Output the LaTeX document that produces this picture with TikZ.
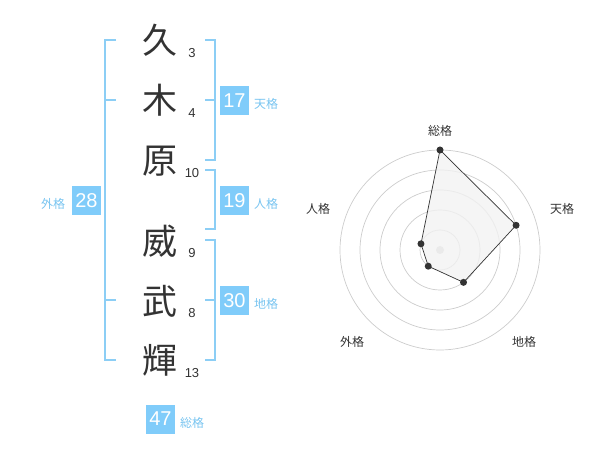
\documentclass[tikz,border=0pt]{standalone}
\usepackage{fontspec}
\setmainfont{Noto Sans CJK JP}
\newfontfamily\digitfont{Liberation Sans}
\usepackage{xcolor}

\begin{document}
\begin{tikzpicture}[x=1pt, y=-1pt]

  \definecolor{my_blue}{RGB}{128,204,250}
  \definecolor{my_blue_line}{RGB}{140,206,245}
  \definecolor{my_blue_text}{RGB}{120,196,240}
  \definecolor{my_gray_dark}{RGB}{51,51,51}
  \definecolor{my_gray}{RGB}{204,204,204}
  \definecolor{my_gray_light}{RGB}{242,242,242}

  \tikzstyle{kanji} = [inner sep=0pt, text=my_gray_dark, font=\fontsize{35}{35}\selectfont]
  \tikzstyle{strokes} = [inner sep=0pt, text=my_gray_dark, font=\digitfont\fontsize{13}{13}\selectfont]
  \tikzstyle{gbox} = [fill=my_blue, text=white, minimum width=29pt, minimum height=29pt, inner sep=0pt, font=\digitfont\fontsize{20}{20}\selectfont]
  \tikzstyle{glabel} = [anchor=west, inner sep=0pt, text=my_blue_text, font=\fontsize{12}{12}\selectfont]
  \tikzstyle{bracket} = [draw=my_blue_line, line width=2pt]
  \tikzstyle{axislabel} = [inner sep=0pt, text=my_gray_dark, font=\fontsize{12}{12}\selectfont]

  \useasboundingbox (0,0) rectangle (600,470);

  % name
  \node [kanji] (k1) at (160,40) {久};
  \node [kanji] (k2) at (160,100) {木};
  \node [kanji] (k3) at (160,161) {原};
  \node [kanji] (k4) at (160,241) {威};
  \node [kanji] (k5) at (160,301) {武};
  \node [kanji] (k6) at (160,360) {輝};

  \node [strokes] (s1) at (192,53) {3};
  \node [strokes] (s2) at (192,113) {4};
  \node [strokes] (s3) at (192,173) {10};
  \node [strokes] (s4) at (192,253) {9};
  \node [strokes] (s5) at (192,313) {8};
  \node [strokes] (s6) at (192,373) {13};

  % brackets
  \path [bracket] (116,40) -- (105,40) -- (105,360) -- (116,360);
  \path [bracket] (105,100) -- (116,100);
  \path [bracket] (105,300) -- (116,300);
  \path [bracket] (205,40) -- (215,40) -- (215,160) -- (205,160);
  \path [bracket] (205,100) -- (215,100);
  \path [bracket] (205,170) -- (215,170) -- (215,229) -- (205,229);
  \path [bracket] (205,240) -- (215,240) -- (215,360) -- (205,360);
  \path [bracket] (205,300) -- (215,300);

  % scores
  \node [gbox] (tenkaku) at (234.5,100.5) {17};
  \node [glabel] at (254,103.5) {天格};
  \node [gbox] (jinkaku) at (234.5,200.5) {19};
  \node [glabel] at (254,203.5) {人格};
  \node [gbox] (chikaku) at (234.5,300.5) {30};
  \node [glabel] at (254,303.5) {地格};
  \node [gbox] (gaikaku) at (86.5,200.5) {28};
  \node [glabel] at (41,203.5) {外格};
  \node [gbox] (soukaku) at (160.5,419) {47};
  \node [glabel] at (180,422.5) {総格};

  % radar
  \begin{scope}[shift={(440,250)}]
    \foreach \r in {20,40,60,80,100}
      \draw [my_gray, line width=0.7pt] (0,0) circle (\r);
    \fill [my_gray] (0,0) circle (4);
    \draw [fill=my_gray_light, fill opacity=0.8, draw=my_gray_dark, line width=0.7pt]
      (-90:100) coordinate (p1) -- (-18:80) coordinate (p2) -- (54:40) coordinate (p3)
      -- (126:20) coordinate (p4) -- (-162:20) coordinate (p5) -- cycle;
    \foreach \p in {p1,p2,p3,p4,p5}
      \fill [my_gray_dark] (\p) circle (3.5);
  \end{scope}

  \node [axislabel] (a1) at (440,131) {総格};
  \node [axislabel] (a2) at (562,208.5) {天格};
  \node [axislabel] (a3) at (524,342) {地格};
  \node [axislabel] (a4) at (352,342) {外格};
  \node [axislabel] (a5) at (318,208.5) {人格};

\end{tikzpicture}
\end{document}
